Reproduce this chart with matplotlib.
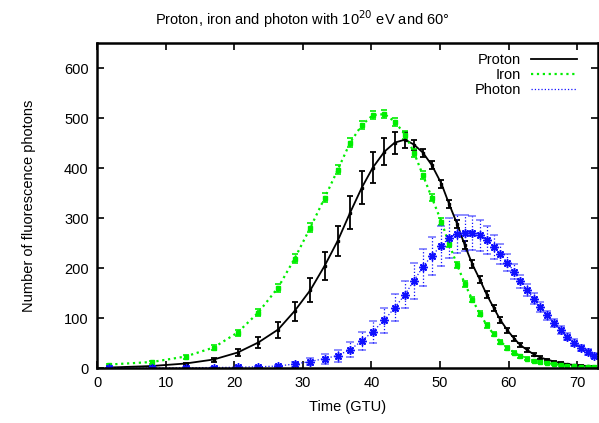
import numpy as np
import matplotlib
matplotlib.use("Agg")
import matplotlib.pyplot as plt

plt.rcParams["font.family"] = ["Liberation Sans", "DejaVu Sans"]

# time bins (GTU), shared by all three showers
t = [1.8, 8.0, 12.9, 17.0, 20.5, 23.5, 26.4, 28.8, 31.1, 33.2, 35.1, 36.9,
     38.6, 40.2, 41.9, 43.4, 44.9, 46.2, 47.5, 48.8, 50.2, 51.3, 52.5, 53.6,
     54.7, 55.8, 56.8, 57.8, 58.8, 59.8, 60.8, 61.7, 62.7, 63.7, 64.6, 65.6,
     66.6, 67.6, 68.5, 69.5, 70.5, 71.5, 72.4]

proton = [1, 4, 9, 17, 31, 51, 77, 114, 156, 205, 255, 311,
          361, 401, 433, 451, 457, 447, 431, 406, 369, 329, 288, 246,
          208, 177, 147, 121, 96, 76, 59, 46, 36, 27, 21, 17,
          13, 10, 8, 6, 5, 4, 3]
proton_err = [0.5, 1, 2, 4, 7, 11, 16, 19, 24, 28, 30, 33,
              33, 31, 27, 22, 16, 10, 8, 8, 8, 8, 8, 8,
              8, 7, 7, 6, 6, 5, 5, 4, 4, 3, 3, 2,
              2, 2, 1, 1, 1, 1, 1]

iron = [7, 12, 23, 41, 71, 111, 161, 219, 281, 341, 397, 451,
        486, 506, 508, 493, 467, 431, 386, 341, 293, 249, 206, 169,
        137, 109, 86, 68, 53, 41, 31, 24, 19, 15, 12, 10,
        8, 6, 5, 4, 3, 3, 2]
iron_err = [2, 3, 4, 5, 6, 7, 8, 9, 9, 9, 9, 9,
            8, 8, 8, 8, 8, 8, 8, 7, 7, 7, 6, 6,
            5, 5, 5, 4, 4, 4, 3, 3, 3, 2, 2, 2,
            2, 2, 1, 1, 1, 1, 1]

photon = [0, 0, 0.5, 1, 1.5, 2.5, 4, 8, 13, 19, 25, 37,
          54, 73, 96, 121, 147, 175, 202, 225, 245, 260, 269, 271,
          271, 266, 256, 243, 228, 211, 193, 174, 156, 139, 123, 106,
          91, 76, 63, 51, 41, 33, 25]
photon_err = [0.5, 0.5, 1, 1, 1, 2, 3, 5, 7, 10, 12, 15,
              18, 22, 25, 27, 27, 36, 37, 38, 40, 40, 38, 36,
              34, 31, 28, 24, 20, 17, 15, 13, 12, 11, 10, 9,
              8, 8, 7, 7, 6, 6, 5]

fig = plt.figure(figsize=(5.99, 4.23), dpi=100)
ax = fig.add_axes([0.162, 0.130, 0.836, 0.768])

# proton: black solid
ax.errorbar(t, proton, yerr=proton_err, color="black", lw=1.3,
            elinewidth=1.3, capsize=2.5, capthick=1.3, marker="s", ms=1.5)

# iron: green dotted with squares
eb = ax.errorbar(t, iron, yerr=iron_err, color="#00ee00", lw=1.6, ls=":",
                 elinewidth=1.2, capsize=2.5, capthick=1.2, marker="s", ms=3.5)
eb[2][0].set_linestyle(":")

# photon: blue dotted with asterisks
eb = ax.errorbar(t, photon, yerr=photon_err, color="#1010ff", lw=0.9, ls=":",
                 elinewidth=0.9, capsize=3, capthick=0.9, marker=(8, 2, 0),
                 ms=6, mew=1.1)
eb[2][0].set_linestyle(":")
for c in eb[1]:
    c.set_alpha(0.6)

ax.set_xlim(0, 73)
ax.set_ylim(0, 650)
ax.set_xticks(range(0, 71, 10))
ax.set_yticks(range(0, 601, 100))
ax.tick_params(direction="in", top=True, right=True, length=5, width=1.2,
               labelsize=10.5, pad=6)
for s in ax.spines.values():
    s.set_linewidth(1.8)

ax.set_xlabel("Time (GTU)", fontsize=10.5, labelpad=7)
ax.set_ylabel("Number of fluorescence photons", fontsize=10.5, labelpad=20)
fig.text(0.505, 0.955, r"Proton, iron and photon with 10$^{20}$ eV and 60°",
         ha="center", va="center", fontsize=10.5)

# legend: text right aligned, line sample on the right, no markers
handles = [plt.Line2D([], [], color="black", lw=1.3),
           plt.Line2D([], [], color="#00ee00", lw=1.6, ls=":"),
           plt.Line2D([], [], color="#1010ff", lw=0.9, ls=":")]
leg = ax.legend(handles, ["Proton", "Iron", "Photon"], loc="upper right",
                bbox_to_anchor=(0.978, 1.0), frameon=False, markerfirst=False,
                fontsize=10.5, handlelength=3.1, handletextpad=0.7,
                labelspacing=0.05, borderaxespad=0.3)
for txt in leg.get_texts():
    txt.set_ha("right")
leg._legend_box.align = "right"

fig.savefig("out.png", dpi=100)
